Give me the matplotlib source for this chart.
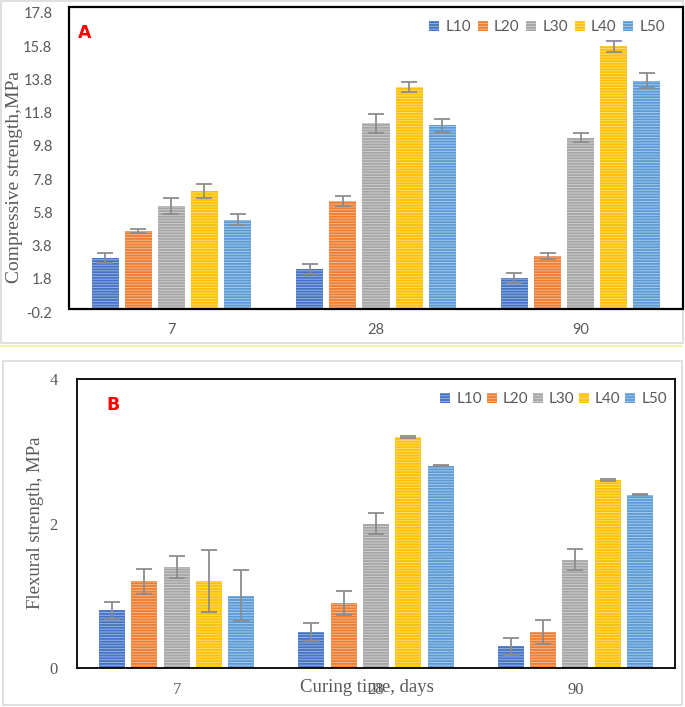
import numpy as np
import matplotlib
matplotlib.use("Agg")
from matplotlib import pyplot as plt
from matplotlib.patches import Rectangle

# data
days = ["7", "28", "90"]
series = ["L10", "L20", "L30", "L40", "L50"]
colors = ["#4472C4", "#ED7D31", "#A5A5A5", "#FFC000", "#5B9BD5"]

comp_L10 = [3.05, 2.39, 1.85]
comp_L20 = [4.68, 6.48, 3.17]
comp_L30 = [6.18, 11.16, 10.28]
comp_L40 = [7.09, 13.33, 15.81]
comp_L50 = [5.34, 11.04, 13.71]
comp_err_L10 = [0.30, 0.30, 0.30]
comp_err_L20 = [0.10, 0.30, 0.20]
comp_err_L30 = [0.50, 0.57, 0.27]
comp_err_L40 = [0.42, 0.30, 0.33]
comp_err_L50 = [0.33, 0.39, 0.45]

flex_L10 = [0.8, 0.5, 0.3]
flex_L20 = [1.2, 0.9, 0.5]
flex_L30 = [1.4, 2.0, 1.5]
flex_L40 = [1.2, 3.2, 2.6]
flex_L50 = [1.0, 2.8, 2.4]
flex_err_L10 = [0.12, 0.12, 0.12]
flex_err_L20 = [0.17, 0.17, 0.17]
flex_err_L30 = [0.15, 0.15, 0.15]
flex_err_L40 = [0.43, 0.01, 0.01]
flex_err_L50 = [0.35, 0.01, 0.01]

comp = [comp_L10, comp_L20, comp_L30, comp_L40, comp_L50]
comp_err = [comp_err_L10, comp_err_L20, comp_err_L30, comp_err_L40, comp_err_L50]
flex = [flex_L10, flex_L20, flex_L30, flex_L40, flex_L50]
flex_err = [flex_err_L10, flex_err_L20, flex_err_L30, flex_err_L40, flex_err_L50]

W, H = 685, 707
plt.rcParams['hatch.linewidth'] = 0.7
grey = "#595959"


def lighten(c, f=0.45):
    rgb = np.array(matplotlib.colors.to_rgb(c))
    return tuple(rgb + (1 - rgb) * f)


def px_box(x0, y0, x1, y1):
    # pixel box (top-left origin) -> figure fraction [l, b, w, h]
    return [x0 / W, 1 - y1 / H, (x1 - x0) / W, (y1 - y0) / H]


def draw_bars(ax, vals, errs, width):
    x = np.arange(len(days))
    handles = []
    for j in range(len(series)):
        b = ax.bar(x + (j - 2) * 0.162, vals[j], width, color=colors[j],
                   edgecolor=lighten(colors[j]), linewidth=0, hatch='------',
                   label=series[j], zorder=2)
        ax.errorbar(x + (j - 2) * 0.162, vals[j], yerr=errs[j], fmt='none',
                    ecolor='#8c8c8c', elinewidth=1.3, capsize=5.5,
                    capthick=1.3, zorder=3)
        handles.append(b)
    ax.set_xlim(-0.5, 2.5)
    ax.set_xticks(x)
    ax.set_xticklabels(days)
    return handles


fig = plt.figure(figsize=(W / 100, H / 100), dpi=100)

# outer panel borders
fig.patches.append(Rectangle((1 / W, 1 - 343 / H), 682 / W, 342 / H,
                             transform=fig.transFigure, fill=False,
                             edgecolor="#d9d9d9", linewidth=1.2))
fig.patches.append(Rectangle((0, 1 - 345.5 / H), 683 / W, 0,
                             transform=fig.transFigure, fill=False,
                             edgecolor="#f2ef9a", linewidth=1.2))
fig.patches.append(Rectangle((3 / W, 1 - 705 / H), 679 / W, 344 / H,
                             transform=fig.transFigure, fill=False,
                             edgecolor="#d9d9d9", linewidth=1.2))

# ---- panel A ----
axA = fig.add_axes(px_box(69, 13, 683, 312))
hA = draw_bars(axA, comp, comp_err, 0.132)
axA.set_ylim(-0.2, 17.8)
axA.set_yticks(np.arange(-0.2, 17.9, 2))
axA.set_yticklabels(["%.1f" % v for v in np.arange(-0.2, 17.9, 2)])
for sp in axA.spines.values():
    sp.set_visible(False)
axA.tick_params(length=0, labelcolor=grey, labelsize=10.5, pad=12)
axA.tick_params(axis='x', pad=8)
for lab in axA.get_xticklabels() + axA.get_yticklabels():
    lab.set_family('Lato')
fig.patches.append(Rectangle((69 / W, 1 - 309 / H), 614 / W, 302 / H,
                             transform=fig.transFigure, fill=False,
                             edgecolor="black", linewidth=1.6, zorder=5))
axA.text(85 / W, 1 - 33 / H, "A", transform=fig.transFigure, color="red",
         fontsize=12.5, fontweight="bold", ha="center", va="center",
         family="DejaVu Sans")
fig.text(15 / W, 1 - 177 / H, "Compressive strength,MPa", rotation=90,
         ha="center", va="center", color=grey, fontsize=14,
         family="Liberation Serif")
axA.legend(handles=hA, loc="center right", bbox_to_anchor=(665 / W, 1 - 27 / H),
           bbox_transform=fig.transFigure, ncol=5, frameon=False,
           prop={'family': 'Lato', 'size': 11}, labelcolor=grey,
           handlelength=0.65, handleheight=0.65, handletextpad=0.4,
           columnspacing=0.45, borderpad=0, borderaxespad=0)

# ---- panel B ----
axB = fig.add_axes(px_box(77, 379, 675, 668))
hB = draw_bars(axB, flex, flex_err, 0.13)
axB.set_ylim(0, 4)
axB.set_yticks([0, 2, 4])
for sp in axB.spines.values():
    sp.set_color("black")
    sp.set_linewidth(1.3)
axB.tick_params(length=0, labelcolor=grey, labelsize=12, pad=14)
axB.tick_params(axis='x', pad=10)
for lab in axB.get_xticklabels() + axB.get_yticklabels():
    lab.set_family('Liberation Serif')
axB.text(113 / W, 1 - 405 / H, "B", transform=fig.transFigure, color="red",
         fontsize=12.5, fontweight="bold", ha="center", va="center",
         family="DejaVu Sans")
fig.text(36 / W, 1 - 523 / H, "Flexural strength, MPa", rotation=90,
         ha="center", va="center", color=grey, fontsize=13.5,
         family="Liberation Serif")
fig.text(367 / W, 1 - 688 / H, "Curing time, days", ha="center", va="center",
         color=grey, fontsize=13.5, family="Liberation Serif")
axB.legend(handles=hB, loc="center right", bbox_to_anchor=(667 / W, 1 - 399 / H),
           bbox_transform=fig.transFigure, ncol=5, frameon=False,
           prop={'family': 'Lato', 'size': 11}, labelcolor=grey,
           handlelength=0.65, handleheight=0.65, handletextpad=0.4,
           columnspacing=0.3, borderpad=0, borderaxespad=0)

plt.savefig("out.png", dpi=100)
